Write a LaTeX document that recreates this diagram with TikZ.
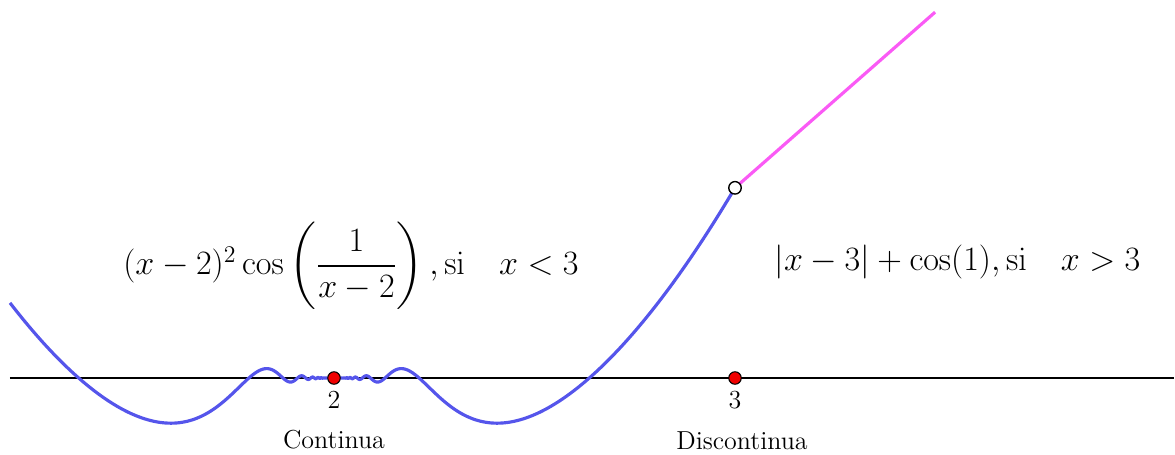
\documentclass[tikz,border=0pt]{standalone}
\usepackage{fix-cm}
\usepackage{amsmath}
\definecolor{curveblue}{RGB}{85,85,235}
\definecolor{curvepink}{RGB}{250,90,245}
\definecolor{dotred}{RGB}{240,0,0}
\tikzset{
  bluecurve/.style={draw=curveblue,line width=1.8pt,line join=round},
  pinkline/.style={draw=curvepink,line width=1.8pt},
  axisline/.style={draw=black,line width=0.6pt},
  reddot/.style={circle,draw=black,fill=dotred,line width=0.6pt,inner sep=0pt,minimum size=0.25cm},
  opendot/.style={circle,draw=black,fill=white,line width=0.8pt,inner sep=0pt,minimum size=0.25cm},
  lbl/.style={font=\fontsize{14.8}{17}\selectfont,inner sep=0pt},
  formula/.style={font=\fontsize{19.4}{23}\selectfont,inner sep=0pt}
}
\begin{document}
\begin{tikzpicture}
\useasboundingbox (0,0) rectangle (23.5,9.08);
\begin{scope}[shift={(6.68,1.52)},x=8.02cm,y=7.04cm]
  \coordinate (axL) at (-0.808,0);
  \coordinate (axR) at (2.095,0);
  \coordinate (jump) at (1,0.5403);
  \coordinate (pend) at (1.499,1.0393);
  \draw[axisline] (axL) -- (axR);
  \draw[bluecurve] plot[domain=-0.808:-0.005,samples=900] (\x,{\x*\x*cos(deg(1/\x))})
     -- plot[domain=0.005:1,samples=1000] (\x,{\x*\x*cos(deg(1/\x))});
  \draw[pinkline] (jump) -- (pend);
  \node[opendot] (open) at (jump) {};
  \node[reddot] (p2) at (0,0) {};
  \node[reddot] (p3) at (1,0) {};
\end{scope}
\node[lbl] (n2) at (6.68,1.08) {2};
\node[lbl] (n3) at (14.70,1.08) {3};
\node[lbl] (cont) at (6.68,0.28) {Continua};
\node[lbl] (disc) at (14.84,0.26) {Discontinua};
\node[formula] (fleft) at (7.02,3.76) {$(x-2)^2\cos\left(\dfrac{1}{x-2}\right),\mathrm{si}\quad x<3$};
\node[formula] (fright) at (19.15,3.84) {$|x-3|+\cos(1),\mathrm{si}\quad x>3$};
\end{tikzpicture}
\end{document}
